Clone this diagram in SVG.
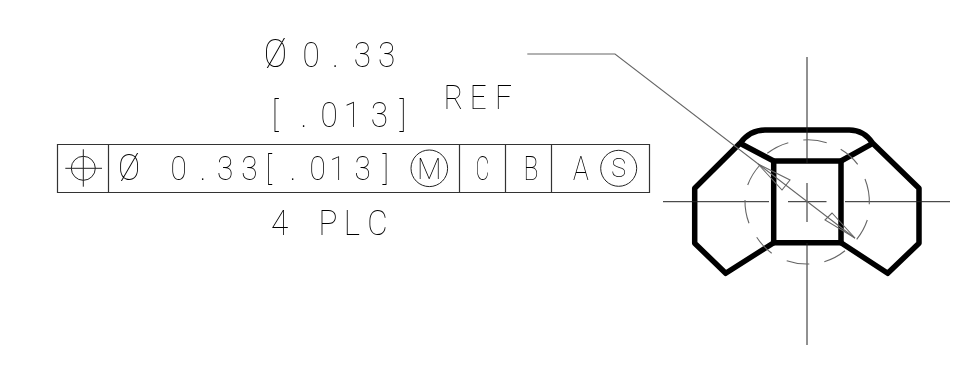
<svg xmlns="http://www.w3.org/2000/svg" width="954" height="382" viewBox="0 0 954 382">
<defs><filter id="gray" x="0" y="0" width="1" height="1" filterUnits="objectBoundingBox" color-interpolation-filters="sRGB"><feOffset dx="0" dy="0"/></filter></defs>
<style>
.t{font-family:"Roboto","Liberation Sans",sans-serif;font-weight:100;fill:#000}
.g{filter:url(#gray)}
.f{font-size:35px}.s{font-size:33px}
.l{fill:none;stroke:#222;stroke-width:1}
.m{fill:none;stroke:#333;stroke-width:1.2}
.h{fill:none;stroke:#000;stroke-width:5.5;stroke-linejoin:round}
.d{fill:none;stroke:#666;stroke-width:1.1}
</style>
<rect width="954" height="382" fill="#fff"/>
<g id="label-dim" class="g">
<rect x="250" y="30" width="280" height="105" fill="#fff"/>
<text class="t f" transform="scale(.9,1)" y="66.7" x="293 336 369 393 420"><tspan font-size="39">Ø</tspan>0.33</text>
<text class="t f" transform="scale(.9,1)" y="126.7" x="302 334 356 382 412 444">[.013]</text>
<text class="t s" transform="scale(.9,1)" y="109.3" x="493 522 550">REF</text>
</g>
<g id="feature-frame" class="g">
<rect x="50" y="140" width="610" height="58" fill="#fff"/>
<path class="m" d="M57.500 144.500H649.500V192.500H57.500ZM108.500 144.500V192.500M459.500 144.500V192.500M505.500 144.500V192.500M551.500 144.500V192.500"/>
<circle class="l" cx="83.300" cy="168.300" r="12"/>
<path class="l" d="M65.300 168.300H102M83.300 149.300V186.700"/>
<text class="t s" transform="scale(.9,1)" y="180" x="131 189.500 222 241 268 295 322 344 366 394 425"><tspan font-size="37">Ø</tspan>0.33[.013]</text>
<circle class="l" cx="429.300" cy="168.300" r="18.300"/>
<text class="t" font-size="30" text-anchor="middle" transform="translate(429.300 179) scale(.95,1)">M</text>
<text class="t s" text-anchor="middle" transform="translate(482.500 180) scale(.65,1)">C</text>
<text class="t s" text-anchor="middle" transform="translate(531 180) scale(.75,1)">B</text>
<text class="t s" text-anchor="middle" transform="translate(581 180) scale(.8,1)">A</text>
<circle class="l" cx="618.700" cy="168.300" r="18"/>
<text class="t" font-size="25" text-anchor="middle" transform="translate(618.700 177)">S</text>
</g>
<g id="label-plc" class="g">
<rect x="260" y="200" width="140" height="45" fill="#fff"/>
<text class="t f" transform="scale(.9,1)" y="235" x="301 330 354 382 408">4 PLC</text>
</g>
<g id="part">
<path class="h" d="M773.700 161H841V242.700H773.700Z"/>
<path class="h" d="M773.700 161L740 143.300L694.700 188.300V243.300L725.700 273.300L773.700 242.700M841 161L872.700 143.300L919 188.300V243.300L887.700 273.300L841 242.700M740 143.300Q750 130 765 130H849.300Q864 130 872.700 143.300"/>
</g>
<g id="centerlines">
<path class="l" d="M807 57V163M807 183V222M807 243V345M663 201.700H769M788 201.700H826.500M845 201.700H950"/>
<path class="d" d="M788.300 142.700A62 62 0 0 0 767.300 153.300M803.300 140A62 62 0 0 1 826.700 142.700M840.700 149.300A62 62 0 0 1 857.700 164.300M865 179A62 62 0 0 1 869.300 204.300M867.300 220A62 62 0 0 1 856.700 239.300M845 250.700A62 62 0 0 1 824.300 261.700M809.300 264A62 62 0 0 1 786.700 260.700M771.700 253.300A62 62 0 0 1 756.700 237.300M749 223.300A62 62 0 0 1 745 200M747.700 185A62 62 0 0 1 760 165"/>
</g>
<g id="connectors">
<path class="d" d="M527.300 54H615L855 238.300"/>
<path class="d" d="M758 164L790 180L782 190ZM855 238L825 220L832 213Z"/>
</g>
</svg>
